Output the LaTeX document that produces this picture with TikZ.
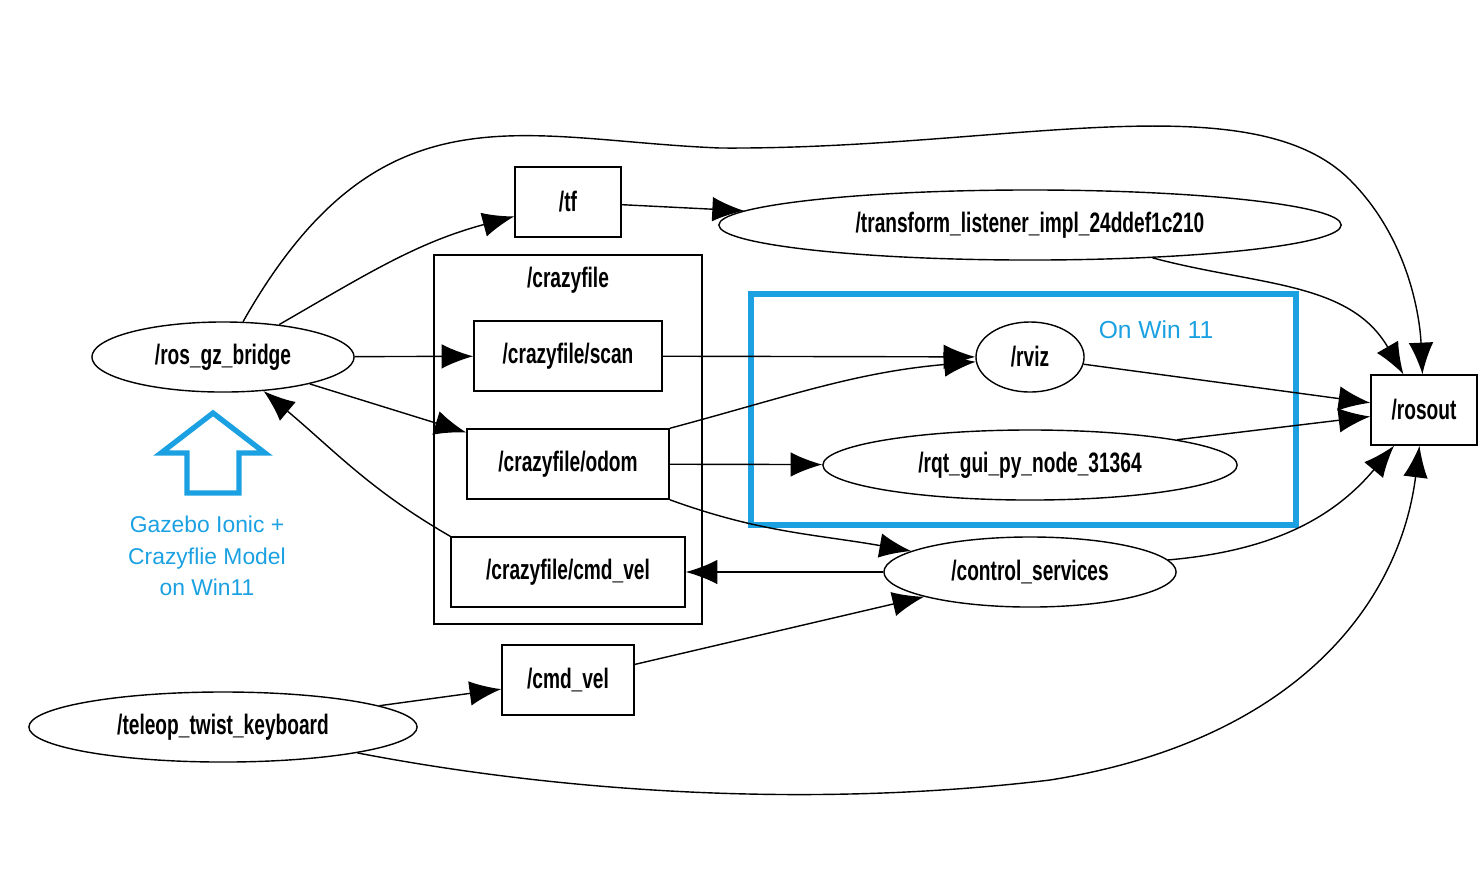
\documentclass[tikz,border=0pt]{standalone}
\usepackage{fontspec}
\setmainfont{Liberation Sans}
\newfontfamily\tight{Liberation Sans}[FakeStretch=0.68]
\usetikzlibrary{positioning,arrows.meta,shapes.geometric}
\definecolor{winblue}{RGB}{27,161,226}
\begin{document}
\begin{tikzpicture}[x=0.01cm,y=-0.01cm, >={Latex[length=9pt,width=7pt]},
  every node/.style={font=\tight\bfseries\fontsize{8}{9}\selectfont},
  topic/.style={draw,rectangle,minimum height=0.7cm,inner sep=0pt},
  nd/.style={draw,ellipse,minimum height=0.7cm,inner sep=0pt},
  note/.style={text=winblue,font=\fontsize{6.5}{9}\selectfont,align=center}]
  \useasboundingbox (0,0) rectangle (1480,872);
  % nodes
  \node[nd,minimum width=2.62cm] (bridge) at (223,357) {/ros\_gz\_bridge};
  \node[topic,minimum width=1.06cm] (tf) at (568,202) {/tf};
  \node[nd,minimum width=6.22cm] (tfl) at (1030,225) {/transform\_listener\_impl\_24ddef1c210};
  \draw (434,255) rectangle (702,624);
  \node (cf) at (568,280) {/crazyfile};
  \node[topic,minimum width=1.88cm] (scan) at (568,356) {/crazyfile/scan};
  \node[topic,minimum width=2.02cm] (odom) at (568,464) {/crazyfile/odom};
  \node[topic,minimum width=2.34cm] (cfcmd) at (568,572) {/crazyfile/cmd\_vel};
  \draw[winblue,line width=1.5pt] (751,294) rectangle (1296,525);
  \node[note,font=\fontsize{7}{9}\selectfont] (win) at (1156,330) {On Win 11};
  \node[nd,minimum width=1.08cm] (rviz) at (1030,357) {/rviz};
  \node[nd,minimum width=4.14cm] (rqt) at (1030,465) {/rqt\_gui\_py\_node\_31364};
  \node[topic,minimum width=1.06cm] (rosout) at (1424,410) {/rosout};
  \node[nd,minimum width=2.92cm] (ctrl) at (1030,572) {/control\_services};
  \node[topic,minimum width=1.32cm] (cmd) at (568,680) {/cmd\_vel};
  \node[nd,minimum width=3.88cm] (teleop) at (223,727) {/teleop\_twist\_keyboard};
  \node[note] (gz) at (207,556) {Gazebo Ionic +\\Crazyflie Model\\on Win11};
  \draw[winblue,line width=1.5pt] (213,413) -- (265,453) -- (239,453) -- (239,493)
    -- (187,493) -- (187,453) -- (161,453) -- cycle;
  % edges
  \draw[->] (bridge) to[out=30,in=195] (tf);
  \draw[->] (bridge) -- (scan);
  \draw[->] (bridge) -- (odom);
  \draw[->] (cfcmd.north west) to[out=150,in=-40] (bridge);
  \draw[->] (bridge) .. controls (380,80) and (520,140) .. (720,148)
    .. controls (1000,150) and (1250,80) .. (1350,180)
    .. controls (1410,240) and (1420,320) .. (rosout);
  \draw[->] (tf) -- (tfl);
  \draw[->] (tfl) to[out=-15,in=120] (rosout);
  \draw[->] (scan) -- (rviz);
  \draw[->] (odom.north east) to[out=15,in=185] (rviz);
  \draw[->] (odom) -- (rqt);
  \draw[->] (odom.south east) to[out=-20,in=170] (ctrl);
  \draw[->] (ctrl) -- (cfcmd);
  \draw[->] (ctrl) to[out=5,in=-130] (rosout);
  \draw[->] (rviz) -- (rosout);
  \draw[->] (rqt.north east) -- (rosout);
  \draw[->] (cmd) -- (ctrl);
  \draw[->] (teleop) -- (cmd);
  \draw[->] (teleop) .. controls (550,790) and (800,810) .. (1050,780)
    .. controls (1300,740) and (1400,600) .. (rosout);
\end{tikzpicture}
\end{document}
